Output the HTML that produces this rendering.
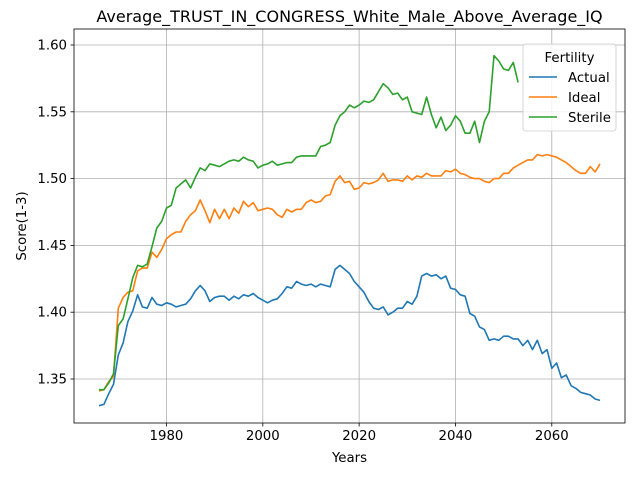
<!DOCTYPE html>
<html><head><meta charset="utf-8"><style>
body{margin:0;background:#fff;font-family:"Liberation Sans","DejaVu Sans",sans-serif}
svg text{font-family:"DejaVu Sans","Liberation Sans",sans-serif}
</style></head><body>
<svg id="chart" width="640" height="480" xmlns="http://www.w3.org/2000/svg"></svg>
<script>
const years=[];for(let y=1966;y<=2070;y++)years.push(y);
const actual=[1.330,1.331,1.339,1.346,1.368,1.377,1.393,1.401,1.413,1.404,1.403,1.411,1.406,1.405,1.407,1.406,1.404,1.405,1.406,1.410,1.416,1.420,1.416,1.408,1.411,1.412,1.412,1.409,1.412,1.410,1.413,1.412,1.414,1.411,1.409,1.407,1.409,1.410,1.414,1.419,1.418,1.423,1.421,1.420,1.421,1.419,1.421,1.420,1.419,1.432,1.435,1.432,1.429,1.423,1.419,1.415,1.408,1.403,1.402,1.404,1.398,1.400,1.403,1.403,1.408,1.406,1.412,1.427,1.429,1.427,1.428,1.425,1.427,1.418,1.417,1.413,1.412,1.399,1.397,1.389,1.387,1.379,1.380,1.379,1.382,1.382,1.380,1.380,1.375,1.379,1.372,1.379,1.369,1.372,1.358,1.362,1.351,1.353,1.345,1.343,1.340,1.339,1.338,1.335,1.334];
const ideal=[1.341,1.342,1.348,1.352,1.403,1.411,1.415,1.416,1.431,1.433,1.433,1.445,1.441,1.447,1.455,1.458,1.460,1.460,1.468,1.473,1.476,1.484,1.476,1.467,1.477,1.470,1.477,1.470,1.478,1.474,1.483,1.479,1.482,1.476,1.477,1.478,1.477,1.473,1.471,1.477,1.475,1.477,1.477,1.482,1.484,1.482,1.483,1.487,1.488,1.498,1.502,1.497,1.498,1.492,1.493,1.497,1.496,1.497,1.499,1.504,1.498,1.499,1.499,1.498,1.502,1.499,1.502,1.501,1.504,1.502,1.502,1.502,1.506,1.505,1.507,1.504,1.503,1.501,1.500,1.500,1.498,1.497,1.500,1.500,1.504,1.504,1.508,1.510,1.512,1.514,1.514,1.518,1.517,1.518,1.517,1.516,1.514,1.512,1.509,1.506,1.504,1.504,1.509,1.505,1.511];
const sterile=[1.342,1.342,1.347,1.354,1.390,1.395,1.410,1.426,1.435,1.434,1.436,1.449,1.463,1.468,1.478,1.480,1.493,1.496,1.499,1.493,1.501,1.508,1.506,1.511,1.510,1.509,1.511,1.513,1.514,1.513,1.516,1.514,1.513,1.508,1.510,1.511,1.513,1.510,1.511,1.512,1.512,1.516,1.517,1.517,1.517,1.517,1.524,1.525,1.527,1.540,1.547,1.550,1.555,1.553,1.555,1.558,1.557,1.559,1.565,1.571,1.568,1.563,1.564,1.559,1.561,1.550,1.549,1.548,1.561,1.548,1.538,1.546,1.536,1.540,1.547,1.543,1.534,1.534,1.543,1.527,1.543,1.550,1.592,1.588,1.582,1.581,1.587,1.572];
const xTicks=[1980,2000,2020,2040,2060];
const yTicks=[1.35,1.40,1.45,1.50,1.55,1.60];
const L=74,R=625,T=29,B=423;
const xmin=1960.8,xmax=2075.2;
const X=v=>L+(v-xmin)/(xmax-xmin)*(R-L);
const Y=v=>45+(1.60-v)*1336;
const svg=document.getElementById('chart');const NS='http://www.w3.org/2000/svg';
function el(t,a,txt){const e=document.createElementNS(NS,t);for(const k in a)e.setAttribute(k,a[k]);if(txt!==undefined)e.textContent=txt;svg.appendChild(e);return e;}
xTicks.forEach(t=>{const x=X(t);
 const g=el('line',{x1:x,x2:x,y1:T,y2:B,stroke:'#b0b0b0','stroke-width':0.8});
 
 const k=el('line',{x1:x,x2:x,y1:B,y2:B+3.5,stroke:'#000','stroke-width':0.8});
 
 const l=el('text',{x:x,y:B+17,'text-anchor':'middle','font-size':'13.3'},t);
 });
yTicks.forEach(t=>{const y=Y(t);
 const g=el('line',{x1:L,x2:R,y1:y,y2:y,stroke:'#b0b0b0','stroke-width':0.8});
 
 const k=el('line',{x1:L-3.5,x2:L,y1:y,y2:y,stroke:'#000','stroke-width':0.8});
 
 const l=el('text',{x:L-7,y:y+4.5,'text-anchor':'end','font-size':'13.3'},t.toFixed(2));
 });
function line(vals,color,name){const d=vals.map((v,i)=>(i?'L':'M')+X(years[i]).toFixed(1)+','+Y(v).toFixed(1)).join('');
 const p=el('path',{d:d,fill:'none',stroke:color,'stroke-width':1.6,'stroke-linejoin':'round'});
 }
line(actual,'#1f77b4','actual-line');line(ideal,'#ff7f0e','ideal-line');line(sterile,'#2ca02c','sterile-line');
const fr=el('rect',{x:L,y:T,width:R-L,height:B-T,fill:'none',stroke:'#000','stroke-width':0.8});

const ti=el('text',{x:(L+R)/2,y:22,'text-anchor':'middle','font-size':'16'},'Average_TRUST_IN_CONGRESS_White_Male_Above_Average_IQ');

const xl=el('text',{x:(L+R)/2,y:462,'text-anchor':'middle','font-size':'13.3'},'Years');

const yl=el('text',{x:26,y:(T+B)/2,'text-anchor':'middle','font-size':'13.3',transform:'rotate(-90 26 '+(T+B)/2+')'},'Score(1-3)');

const lb=el('rect',{x:523,y:44,width:93,height:87,rx:3,fill:'#fff','fill-opacity':0.8,stroke:'#ccc','stroke-width':0.8});

const lt=el('text',{x:569.5,y:62,'text-anchor':'middle','font-size':'13.3'},'Fertility');

[['Actual','#1f77b4'],['Ideal','#ff7f0e'],['Sterile','#2ca02c']].forEach((s,i)=>{const y=77+i*20;
 const ln=el('line',{x1:529,x2:557,y1:y,y2:y,stroke:s[1],'stroke-width':1.6});
 
 const tx=el('text',{x:568,y:y+5,'font-size':'13.3'},s[0]);
 });
</script>
</body></html>
